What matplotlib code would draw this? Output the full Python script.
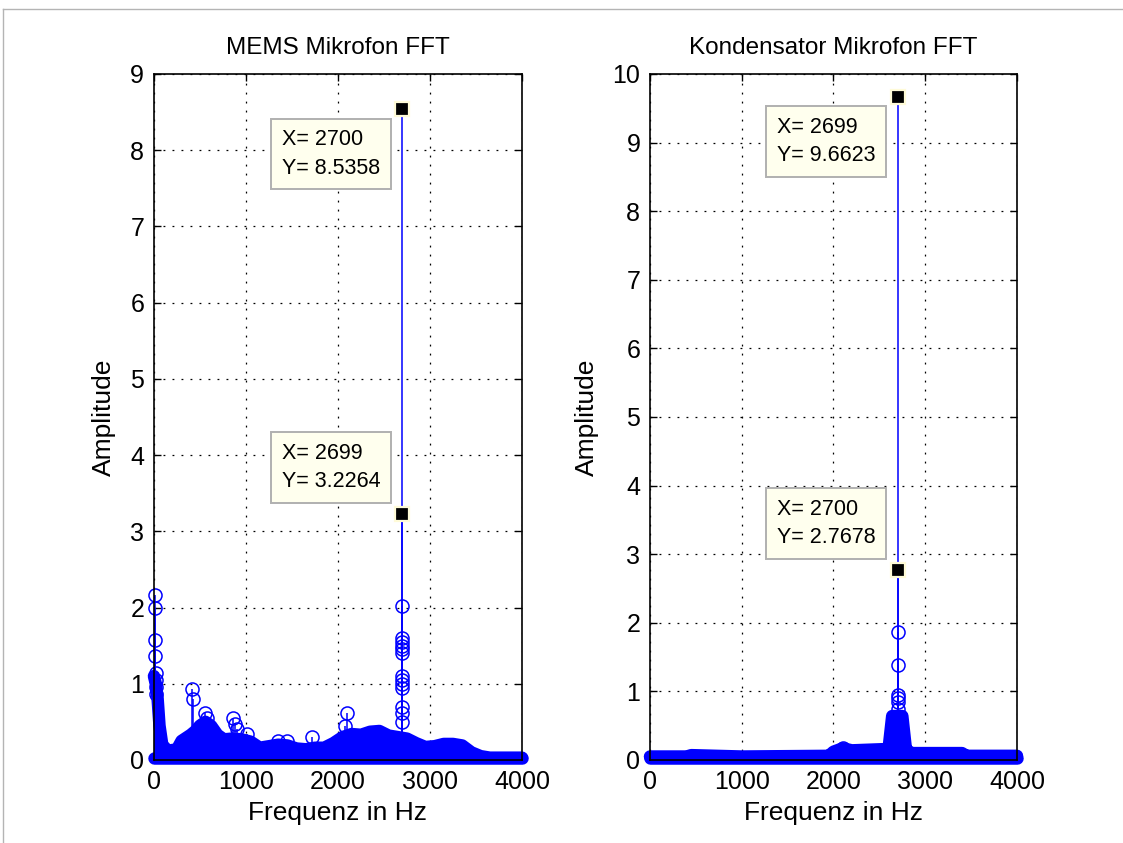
import numpy as np
import matplotlib
matplotlib.use('Agg')
import matplotlib.pyplot as plt
from matplotlib.lines import Line2D

# --- Daten ---
# Rauschteppich als Huellkurve (Frequenz in Hz, Amplitude)
mems_env_f = [0, 20, 40, 60, 90, 150, 250, 300, 400, 450, 500, 560, 620, 690,
              760, 850, 950, 1050, 1150, 1250, 1350, 1450, 1550, 1650, 1750,
              1850, 1950, 2050, 2150, 2250, 2350, 2450, 2550, 2650, 2750, 2850,
              2950, 3050, 3150, 3250, 3350, 3450, 3550, 3650, 4000]
mems_env_a = [1.10, 1.00, 0.80, 0.45, 0.20, 0.12, 0.14, 0.25, 0.33, 0.38, 0.45,
              0.50, 0.45, 0.33, 0.27, 0.28, 0.27, 0.24, 0.16, 0.18, 0.20, 0.19,
              0.15, 0.14, 0.16, 0.16, 0.22, 0.30, 0.34, 0.33, 0.37, 0.38, 0.32,
              0.30, 0.28, 0.22, 0.17, 0.18, 0.21, 0.21, 0.19, 0.10, 0.05, 0.03,
              0.03]

kond_env_f = [0, 400, 450, 1000, 1950, 2000, 2100, 2200, 2600, 2640, 2750,
              2790, 2850, 3400, 3450, 4000]
kond_env_a = [0.05, 0.05, 0.07, 0.05, 0.06, 0.12, 0.17, 0.14, 0.16, 0.64, 0.64,
              0.15, 0.10, 0.10, 0.06, 0.06]

# einzelne Stems oberhalb des Teppichs
mems_stem_f = [10, 12, 15, 8, 20, 18, 25, 22, 415, 420, 560, 580, 860, 880, 900,
               1010, 1350, 1450, 1720, 2100, 2080,
               2700, 2700, 2700, 2700, 2700, 2700, 2700, 2700, 2700, 2700,
               2700, 2700, 2700]
mems_stem_a = [2.17, 1.99, 1.58, 1.36, 1.14, 1.05, 0.96, 0.87, 0.93, 0.80, 0.62,
               0.55, 0.55, 0.47, 0.40, 0.34, 0.25, 0.25, 0.30, 0.62, 0.45,
               2.02, 1.60, 1.55, 1.50, 1.45, 1.40, 1.10, 1.05, 1.00, 0.95,
               0.70, 0.62, 0.50]

kond_stem_f = [2100, 2700, 2700, 2700, 2700, 2700, 2700]
kond_stem_a = [0.17, 1.87, 1.38, 0.95, 0.90, 0.85, 0.75]

# Datatips
mems_tip_x = [2700, 2699]
mems_tip_y = [8.5358, 3.2264]
kond_tip_x = [2699, 2700]
kond_tip_y = [9.6623, 2.7678]

BLAU = '#0000ff'
FONT = ['Liberation Sans', 'DejaVu Sans']
plt.rcParams['font.family'] = FONT

fig = plt.figure(figsize=(11.23, 8.43), dpi=100)
ax1 = fig.add_axes([0.1371, 0.0985, 0.3277, 0.8138])
ax2 = fig.add_axes([0.5788, 0.0985, 0.3268, 0.8138])

# Rahmen vom Screenshot
fig.add_artist(Line2D([3 / 1123, 1], [1 - 9 / 843, 1 - 9 / 843], color='#b4b4b4', lw=1))
fig.add_artist(Line2D([3 / 1123, 3 / 1123], [0, 1 - 9 / 843], color='#b4b4b4', lw=1))


def zeichne(ax, env_f, env_a, stem_f, stem_a, tip_x, tip_y, tips_unten, ymax, titel):
    # Rauschteppich
    ax.fill_between(env_f, 0, env_a, color=BLAU, lw=0, zorder=2)
    ax.plot(env_f, env_a, color=BLAU, lw=9, solid_joinstyle='round',
            solid_capstyle='round', clip_on=False, zorder=2)
    ax.plot([env_f[0], env_f[-1]], [0.03, 0.03], color=BLAU, lw=9,
            solid_capstyle='round', clip_on=False, zorder=2)

    # einzelne Stems
    ml, sl, bl = ax.stem(stem_f, stem_a, linefmt='-', markerfmt='o', basefmt=' ')
    plt.setp(sl, color=BLAU, lw=1.1)
    plt.setp(ml, color=BLAU, mfc='none', ms=9.4, mew=1.1, clip_on=False)

    # Hauptlinie + Datatips
    for x, y in zip(tip_x, tip_y):
        ax.plot([x, x], [0, y], color=BLAU, lw=1.1, zorder=3)
    ax.plot(tip_x, tip_y, ls='none', marker='s', ms=10.5, mfc='black',
            mec='#fffbd8', mew=1.6, zorder=6, clip_on=False)

    for (x, y), unten in zip(zip(tip_x, tip_y), tips_unten):
        txt = f'X= {x}\nY= {y:.4f}'
        if unten:
            off, va = (-22, -20), 'top'
        else:
            off, va = (-22, 22), 'bottom'
        ax.annotate(txt, xy=(x, y), xytext=off, textcoords='offset pixels',
                    ha='right', va=va, multialignment='left', fontsize=15.5,
                    linespacing=1.45, zorder=7,
                    bbox=dict(boxstyle='square,pad=0.5', facecolor='#ffffee',
                              edgecolor='#b0b0b0', lw=1.4))

    ax.set_xlim(0, 4000)
    ax.set_ylim(0, ymax)
    ax.set_xticks([0, 1000, 2000, 3000, 4000])
    ax.set_yticks(range(0, ymax + 1))
    ax.grid(True, color='black', lw=0.9, linestyle=(0, (1.5, 5.7)))
    ax.set_axisbelow(True)
    ax.tick_params(direction='in', top=True, right=True, length=5, width=1,
                   labelsize=18, pad=7)
    for s in ax.spines.values():
        s.set_linewidth(1.2)
        s.set_zorder(8)
    ax.set_title(titel, fontsize=17.5, pad=14)
    ax.set_xlabel('Frequenz in Hz', fontsize=19, labelpad=5)
    ax.set_ylabel('Amplitude', fontsize=19, labelpad=10)


zeichne(ax1, mems_env_f, mems_env_a, mems_stem_f, mems_stem_a,
        mems_tip_x, mems_tip_y, [True, False], 9, 'MEMS Mikrofon FFT')
zeichne(ax2, kond_env_f, kond_env_a, kond_stem_f, kond_stem_a,
        kond_tip_x, kond_tip_y, [True, False], 10, 'Kondensator Mikrofon FFT')

plt.savefig('out.png', dpi=100, facecolor='white')
